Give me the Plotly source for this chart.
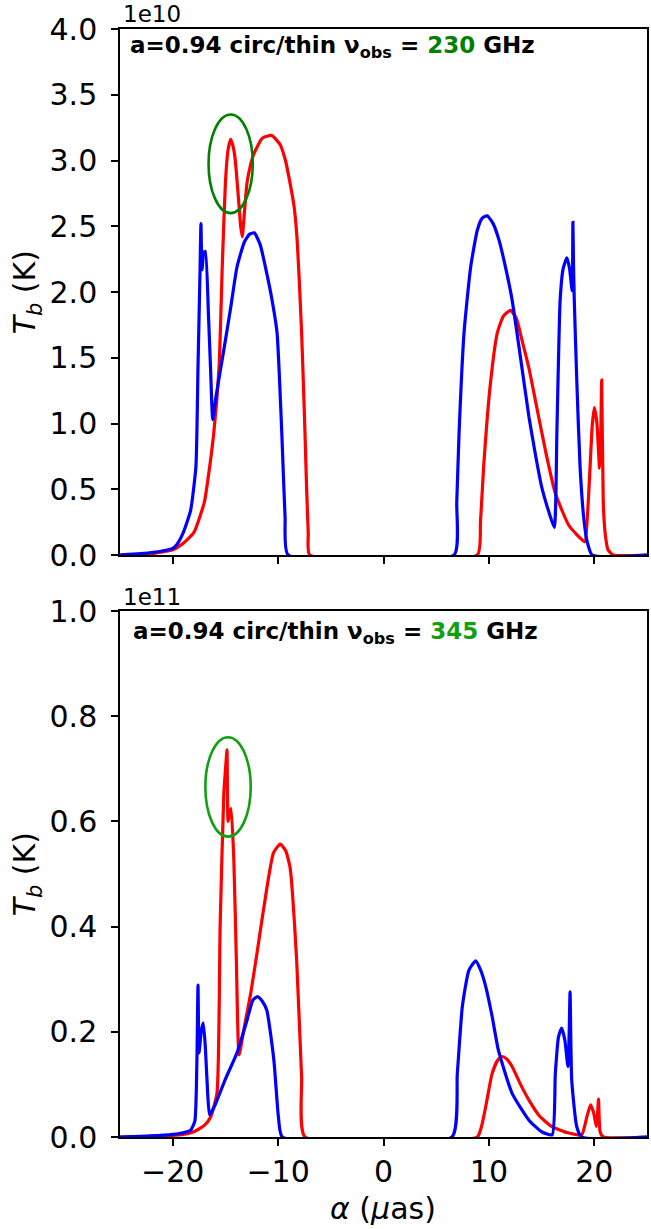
import plotly.graph_objects as go

# ---------------- data (T_b in units of 1e10 K for top, 1e11 K for bottom) -------------
# Top panel: 230 GHz
top_red_x = [-25, -22, -20, -19, -18.0, -17.0, -16.7, -16.1, -15.6, -15.3, -15.0, -14.75, -14.5,
             -14.25, -14.06, -13.75, -13.55, -13.4, -13.2, -12.95, -12.6, -12.3, -11.5, -10.6,
             -9.8, -9.3, -8.87, -8.5, -8.24, -8.0, -7.77, -7.6, -7.45, -7.3, -7.14, -7.0,
             8.9, 9.2, 9.5, 10.15, 10.8,
             11.4, 12.05, 12.6, 13.15, 13.8, 14.4, 15.35, 16.3, 17.55, 18.4, 19.1, 19.35, 19.6,
             19.8, 20.0, 20.25, 20.5, 20.6, 20.7, 20.85, 21.05, 21.3, 21.8, 25]
top_red_y = [0.0, 0.01, 0.04, 0.09, 0.17, 0.4, 0.55, 0.93, 1.43, 2.19, 2.83, 3.08, 3.16,
             3.1, 3.0, 2.7, 2.5, 2.42, 2.6, 2.83, 2.97, 3.05, 3.17, 3.19,
             3.12, 3.0, 2.83, 2.66, 2.45, 2.1, 1.69, 1.3, 0.93, 0.52, 0.17, 0.0,
             0.0, 0.25, 0.67, 1.31, 1.69,
             1.82, 1.86, 1.8, 1.63, 1.42, 1.18, 0.8, 0.47, 0.23, 0.15, 0.1, 0.3, 0.67,
             0.98, 1.12, 1.0, 0.66, 0.85, 1.33, 0.4, 0.15, 0.04, 0.0, 0.0]

top_blue_x = [-25, -23, -21, -20, -19.6, -19.0, -18.3, -17.8, -17.6, -17.4, -17.32, -17.22,
              -17.05, -16.9, -16.6, -16.4, -16.2, -15.9, -15.15, -14.5, -13.9, -13.2, -12.7,
              -12.26, -11.7, -11.07, -10.6, -10.1, -9.65, -9.34, -9.05, 6.7, 6.95, 7.17, 7.64,
              8.27, 8.9, 9.35, 9.84, 10.4, 10.94, 11.6, 12.2, 13.0, 13.8, 14.4, 15.0, 15.6,
              16.2, 16.45, 16.76, 17.05, 17.4, 17.65, 17.9, 17.97, 18.03, 18.1, 18.35, 18.65,
              19.0, 19.3, 19.8, 25]
top_blue_y = [0.0, 0.01, 0.03, 0.05, 0.08, 0.17, 0.34, 0.67, 1.43, 2.19, 2.52, 2.17,
              2.3, 2.31, 1.81, 1.4, 1.03, 1.2, 1.56, 1.88, 2.19, 2.38, 2.44,
              2.45, 2.36, 2.14, 1.95, 1.69, 0.93, 0.29, 0.0, 0.0, 0.4, 0.93, 1.69,
              2.19, 2.47, 2.56, 2.58, 2.52, 2.4, 2.18, 1.94, 1.5, 1.05, 0.77, 0.52, 0.35,
              0.21, 0.93, 1.94, 2.18, 2.26, 2.18, 2.01, 2.53, 2.2, 1.94, 1.3, 0.67,
              0.28, 0.11, 0.0, 0.0]

# Bottom panel: 345 GHz
bot_red_x = [-25, -21, -19, -18, -17, -16.4, -15.8, -15.5, -15.15, -14.95, -14.85, -14.75,
             -14.6, -14.46, -14.2, -13.96, -13.7, -13.2, -12.6, -12.0, -11.4, -10.44, -9.8,
             -9.3, -8.87, -8.24, -7.77, -7.45, 8.9, 9.3, 9.7, 10.3, 10.8, 11.25, 11.7, 12.2,
             13.0, 13.8, 14.8, 15.95, 17.5, 18.8, 19.3, 19.65, 19.95, 20.2, 20.3, 20.4, 20.55,
             20.85, 25]
bot_red_y = [0.0, 0.002, 0.005, 0.01, 0.022, 0.038, 0.083, 0.4, 0.654, 0.71, 0.736, 0.6,
             0.615, 0.625, 0.527, 0.336, 0.156, 0.21, 0.273, 0.35, 0.43, 0.54, 0.557,
             0.545, 0.513, 0.336, 0.114, 0.0, 0.0, 0.02, 0.058, 0.12, 0.145, 0.153, 0.148, 0.134,
             0.1, 0.07, 0.04, 0.02, 0.008, 0.004, 0.039, 0.061, 0.045, 0.02, 0.04, 0.072, 0.01,
             0.0, 0.0]

bot_blue_x = [-25, -22, -20, -19, -18.3, -17.9, -17.7, -17.6, -17.5, -17.3, -17.1, -16.9,
              -16.7, -16.5, -16.0, -15.0, -13.9, -12.95, -12.4, -11.95, -11.5, -11.07, -10.4,
              -9.97, -9.6, 6.5, 7.0, 7.48, 8.1, 8.75, 9.2, 9.7, 10.3, 10.9, 12.2, 13.8, 15.0,
              16.0, 16.3, 16.6, 16.9, 17.2, 17.5, 17.62, 17.7, 17.86, 18.33, 18.8, 25]
bot_blue_y = [0.0, 0.002, 0.005, 0.008, 0.013, 0.03, 0.15, 0.289, 0.16, 0.2, 0.217, 0.17,
              0.09, 0.042, 0.06, 0.11, 0.16, 0.222, 0.26, 0.267, 0.258, 0.241, 0.146,
              0.038, 0.0, 0.0, 0.12, 0.248, 0.317, 0.335, 0.318, 0.286, 0.23, 0.165, 0.083, 0.032, 0.01,
              0.004, 0.12, 0.19, 0.207, 0.185, 0.134, 0.2, 0.276, 0.108, 0.02, 0.0, 0.0]

# highlighted regions (ellipses), data coordinates
top_ellipse = [-16.6, -12.4, 2.6, 3.35]
bot_ellipse = [-16.9, -12.6, 0.571, 0.76]

x_ticks = [-20, -10, 0, 10, 20]
x_tick_text = ["\u221220", "\u221210", "0", "10", "20"]
top_y_ticks = [0.0, 0.5, 1.0, 1.5, 2.0, 2.5, 3.0, 3.5, 4.0]
bot_y_ticks = [0.0, 0.2, 0.4, 0.6, 0.8, 1.0]

# ---------------- figure ----------------
W, H = 651, 1229
ML, MR, MT, MB = 120, 2, 29, 92
PW, PH = W - ML - MR, H - MT - MB


def px_x(px):
    return (px - ML) / PW


def px_y(py):
    return (H - MB - py) / PH


FONT = "DejaVu Sans"
LW = 3.2

fig = go.Figure()
fig.add_trace(go.Scatter(x=top_red_x, y=top_red_y, mode="lines",
                         line=dict(color="#ff0000", width=LW, shape="spline", smoothing=0.5),
                         xaxis="x", yaxis="y", showlegend=False))
fig.add_trace(go.Scatter(x=top_blue_x, y=top_blue_y, mode="lines",
                         line=dict(color="#0000ff", width=LW, shape="spline", smoothing=0.5),
                         xaxis="x", yaxis="y", showlegend=False))
fig.add_trace(go.Scatter(x=bot_red_x, y=bot_red_y, mode="lines",
                         line=dict(color="#ff0000", width=LW, shape="spline", smoothing=0.5),
                         xaxis="x2", yaxis="y2", showlegend=False))
fig.add_trace(go.Scatter(x=bot_blue_x, y=bot_blue_y, mode="lines",
                         line=dict(color="#0000ff", width=LW, shape="spline", smoothing=0.5),
                         xaxis="x2", yaxis="y2", showlegend=False))

axis_common = dict(showline=True, linecolor="black", linewidth=1.5, mirror=True,
                   ticks="outside", ticklen=7, tickwidth=1.5, tickcolor="black",
                   showgrid=False, zeroline=False,
                   tickfont=dict(family=FONT, size=30, color="black"))

top_dom = [px_y(555), 1.0]
bot_dom = [0.0, px_y(611)]

fig.update_layout(
    width=W, height=H, autosize=False,
    margin=dict(l=ML, r=MR, t=MT, b=MB, pad=0),
    paper_bgcolor="white", plot_bgcolor="white",
    font=dict(family=FONT, color="black"),
    xaxis=dict(axis_common, range=[-25, 25], tickvals=x_ticks, showticklabels=False,
               domain=[0, 1], anchor="y"),
    yaxis=dict(axis_common, range=[0, 4.0], tickvals=top_y_ticks, tickformat=".1f",
               ticklabelstandoff=8, domain=top_dom, anchor="x"),
    xaxis2=dict(axis_common, range=[-25, 25], tickvals=x_ticks, ticktext=x_tick_text,
                domain=[0, 1], anchor="y2"),
    yaxis2=dict(axis_common, range=[0, 1.0], tickvals=bot_y_ticks, tickformat=".1f",
                ticklabelstandoff=8, domain=bot_dom, anchor="x2"),
)

fig.add_shape(type="circle", xref="x", yref="y",
              x0=top_ellipse[0], x1=top_ellipse[1], y0=top_ellipse[2], y1=top_ellipse[3],
              line=dict(color="#008000", width=2.6))
fig.add_shape(type="circle", xref="x2", yref="y2",
              x0=bot_ellipse[0], x1=bot_ellipse[1], y0=bot_ellipse[2], y1=bot_ellipse[3],
              line=dict(color="#12a012", width=2.6))

ann = []
ann.append(dict(text="1e10", x=px_x(121), y=px_y(14), xref="paper", yref="paper",
                xanchor="left", yanchor="middle", showarrow=False,
                font=dict(family=FONT, size=23, color="black")))
ann.append(dict(text="1e11", x=px_x(121), y=px_y(597), xref="paper", yref="paper",
                xanchor="left", yanchor="middle", showarrow=False,
                font=dict(family=FONT, size=23, color="black")))
ann.append(dict(text="<b>a=0.94 circ/thin \u03bd<sub>obs</sub> = "
                     "<span style='color:#008000'>230</span> GHz</b>",
                x=px_x(128), y=px_y(47), xref="paper", yref="paper",
                xanchor="left", yanchor="middle", showarrow=False,
                font=dict(family=FONT, size=23, color="black")))
ann.append(dict(text="<b>a=0.94 circ/thin \u03bd<sub>obs</sub> = "
                     "<span style='color:#12a012'>345</span> GHz</b>",
                x=px_x(131), y=px_y(633), xref="paper", yref="paper",
                xanchor="left", yanchor="middle", showarrow=False,
                font=dict(family=FONT, size=23, color="black")))
for yc in (292, 874):
    ann.append(dict(text="<i>T</i><sub><i>b</i></sub> (K)", x=px_x(26), y=px_y(yc),
                    xref="paper", yref="paper", xanchor="center", yanchor="middle",
                    textangle=-90, showarrow=False,
                    font=dict(family=FONT, size=30, color="black")))
ann.append(dict(text="<i>\u03b1</i> (<i>\u03bc</i>as)", x=px_x(384), y=px_y(1208),
                xref="paper", yref="paper", xanchor="center", yanchor="middle",
                showarrow=False, font=dict(family=FONT, size=30, color="black")))
fig.update_layout(annotations=ann)

fig.write_html(
    "out.html",
    config={"responsive": False, "displayModeBar": False},
    post_script="document.body.style.margin='0px';"
                "document.documentElement.style.overflow='hidden';"
                "document.body.style.overflow='hidden';",
)
